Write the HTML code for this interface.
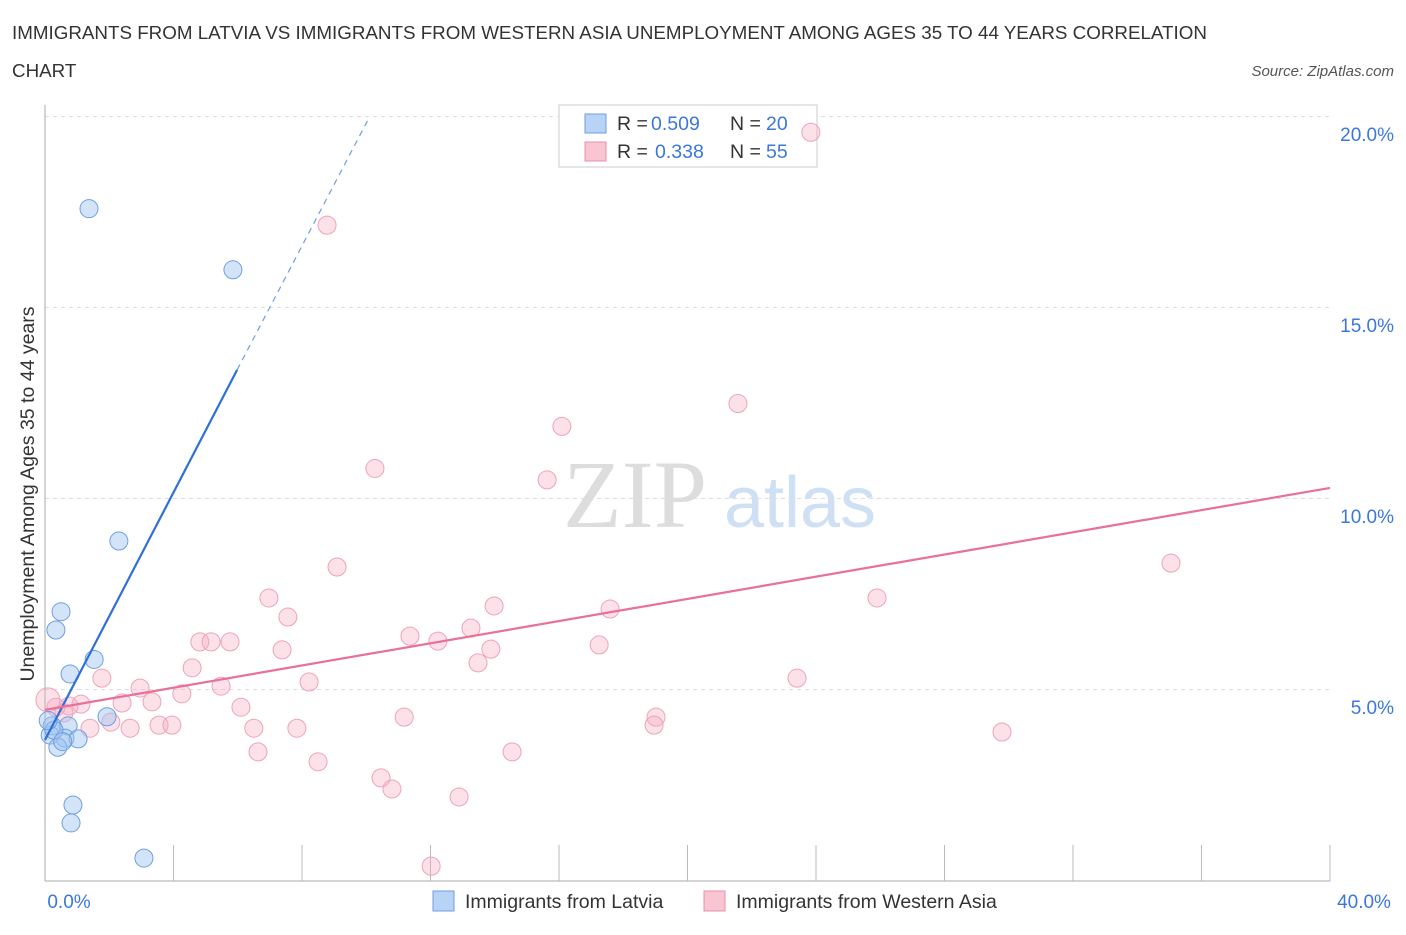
<!DOCTYPE html>
<html><head><meta charset="utf-8"><style>
body{margin:0;background:#fff;font-family:"Liberation Sans",sans-serif;}
</style></head><body>
<svg width="1406" height="930" viewBox="0 0 1406 930" style="font-family:'Liberation Sans',sans-serif">
<text x="12" y="39" font-size="18.8" fill="#333">IMMIGRANTS FROM LATVIA VS IMMIGRANTS FROM WESTERN ASIA UNEMPLOYMENT AMONG AGES 35 TO 44 YEARS CORRELATION</text>
<text x="12" y="77" font-size="18.8" fill="#333">CHART</text>
<text x="1394" y="76" font-size="15" fill="#555" font-style="italic" text-anchor="end">Source: ZipAtlas.com</text>
<text x="635" y="527" font-size="96" fill="#ddd" font-family="'Liberation Serif',serif" text-anchor="middle">ZIP</text>
<text x="800" y="527" font-size="72" fill="#cfe0f4" text-anchor="middle">atlas</text>
<g id="grid"></g>
<g id="axes"></g>
<g>
<rect x="559" y="105" width="258" height="62" fill="#fff" stroke="#ccc"/>
<rect x="585" y="114" width="21" height="19" fill="#b8d3f5" stroke="#6c9fe0"/>
<rect x="585" y="142" width="21" height="19" fill="#f9c5d3" stroke="#e890aa"/>
<text x="617" y="130" font-size="19.5" fill="#333">R =</text>
<text x="651" y="130" font-size="19.5" fill="#3b78d8">0.509</text>
<text x="730" y="130" font-size="19.5" fill="#333">N =</text>
<text x="766" y="130" font-size="19.5" fill="#3b78d8">20</text>
<text x="617" y="158" font-size="19.5" fill="#333">R =</text>
<text x="655" y="158" font-size="19.5" fill="#3b78d8">0.338</text>
<text x="730" y="158" font-size="19.5" fill="#333">N =</text>
<text x="766" y="158" font-size="19.5" fill="#3b78d8">55</text>
</g>
<g id="pts"></g>
<g id="lines"></g>
<text transform="translate(34,494) rotate(-90)" font-size="19.5" fill="#333" text-anchor="middle">Unemployment Among Ages 35 to 44 years</text>
<text x="69" y="908" font-size="19" fill="#3b78d8" text-anchor="middle">0.0%</text>
<text x="1364" y="908" font-size="19" fill="#3b78d8" text-anchor="middle">40.0%</text>
<g>
<rect x="433" y="891" width="21" height="20" fill="#b8d3f5" stroke="#6c9fe0"/>
<text x="465" y="908" font-size="19.5" fill="#333">Immigrants from Latvia</text>
<rect x="704" y="891" width="21" height="20" fill="#f9c5d3" stroke="#e890aa"/>
<text x="736" y="908" font-size="19.5" fill="#333">Immigrants from Western Asia</text>
</g>
</svg>
<script>
const yTicks=[5,10,15,20];
const yTickLabels=["5.0%","10.0%","15.0%","20.0%"];
const blueX=[1.37,5.85,2.3,0.5,0.34,1.53,0.78,1.93,0.22,0.72,0.16,0.62,1.03,0.4,0.87,0.81,3.08,0.28,0.55,0.1];
const blueY=[17.6,16.0,8.9,7.05,6.57,5.8,5.42,4.3,4.06,4.06,3.82,3.74,3.72,3.5,1.99,1.52,0.6,3.95,3.65,4.2];
const pinkX=[23.84,8.78,21.57,16.09,10.27,15.63,35.05,9.09,25.9,6.97,13.98,17.59,7.56,13.26,11.36,4.82,5.17,5.76,12.23,17.25,7.38,13.88,13.48,4.58,23.41,1.77,8.22,2.96,5.48,4.26,0.09,3.33,2.4,1.12,0.75,0.34,0.59,6.1,11.18,19.02,2.05,18.96,3.55,3.95,1.4,2.65,6.5,7.84,29.79,6.63,14.54,8.5,10.46,10.8,12.89,12.02];
const pinkY=[19.6,17.17,12.5,11.9,10.8,10.5,8.32,8.22,7.41,7.41,7.2,7.12,6.91,6.62,6.41,6.26,6.26,6.26,6.28,6.18,6.05,6.07,5.71,5.58,5.31,5.31,5.21,5.05,5.1,4.9,4.74,4.69,4.66,4.63,4.58,4.55,4.4,4.55,4.29,4.29,4.16,4.08,4.08,4.08,4.0,4.0,4.0,4.0,3.9,3.38,3.38,3.12,2.7,2.41,2.2,0.39];
const blueLine=[0,3.69,5.98,13.38,10.1,20.0];
const pinkLine=[0,4.48,40,10.29];
const X=v=>45+v*32.125, Y=v=>881-v*38.2;
const NS="http://www.w3.org/2000/svg";
function mk(tag,at,parent){const e=document.createElementNS(NS,tag);for(const k in at)e.setAttribute(k,at[k]);document.getElementById(parent).appendChild(e);return e;}
yTicks.forEach((t,i)=>{
 const l=mk('line',{x1:45,x2:1330,y1:Y(t)-0.5,y2:Y(t)-0.5,stroke:'#ddd','stroke-dasharray':'4,4'},'grid');
 
 
 const tx=mk('text',{x:1394,y:Y(t)+24,'font-size':19,fill:'#3b78d8','text-anchor':'end'},'grid');
 tx.textContent=yTickLabels[i];
 
 
});
const ax=mk('line',{x1:45,x2:45,y1:105,y2:881,stroke:'#aaa'},'axes');


const bx=mk('line',{x1:45,x2:1330,y1:881,y2:881,stroke:'#aaa'},'axes');


for(let i=1;i<=10;i++){
 const t=mk('line',{x1:X(i*4),x2:X(i*4),y1:845,y2:881,stroke:'#bbb'},'axes');
 
 
}
pinkX.forEach((v,i)=>{
 const c=mk('circle',{cx:X(v),cy:Y(pinkY[i]),r:i==30?12:9,fill:'rgba(246,170,192,0.35)',stroke:'#eea3b8','stroke-width':1},'pts');
 
 
});
blueX.forEach((v,i)=>{
 const c=mk('circle',{cx:X(v),cy:Y(blueY[i]),r:9,fill:'rgba(160,196,240,0.45)',stroke:'#6c9fe0','stroke-width':1},'pts');
 
 
});
const b1=mk('line',{x1:X(blueLine[0]),y1:Y(blueLine[1]),x2:X(blueLine[2]),y2:Y(blueLine[3]),stroke:'#2f6fd6','stroke-width':2.2},'lines');


const b2=mk('line',{x1:X(blueLine[2]),y1:Y(blueLine[3]),x2:X(blueLine[4]),y2:Y(blueLine[5]),stroke:'#6c9fe0','stroke-width':1.2,'stroke-dasharray':'6,5'},'lines');


const p1=mk('line',{x1:X(pinkLine[0]),y1:Y(pinkLine[1]),x2:X(pinkLine[2]),y2:Y(pinkLine[3]),stroke:'#e8709a','stroke-width':2.2},'lines');


</script>
</body></html>
